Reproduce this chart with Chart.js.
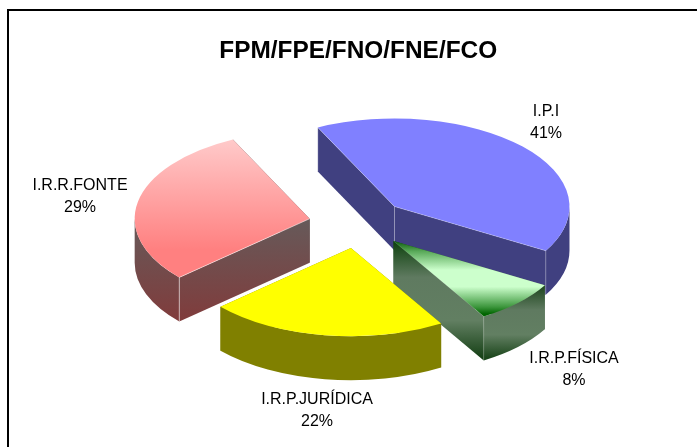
<!DOCTYPE html>
<html>
<head>
<meta charset="utf-8">
<title>FPM/FPE/FNO/FNE/FCO</title>
<script src="https://cdn.jsdelivr.net/npm/chart.js@4/dist/chart.umd.js"></script>
<style>
  html, body { margin: 0; padding: 0; background: #fff; overflow: hidden; }
  #wrap { position: relative; width: 697px; height: 447px; }
  #frame { position: absolute; left: 7px; top: 9px; right: 0; bottom: 0; border-top: 2px solid #000; border-left: 2px solid #000; }
  canvas { position: absolute; left: 0; top: 0; }
</style>
</head>
<body>
<div id="wrap">
  <div id="frame"></div>
  <canvas id="chart" width="697" height="447"></canvas>
</div>
<script>
const categories = ['I.P.I', 'I.R.P.FÍSICA', 'I.R.P.JURÍDICA', 'I.R.R.FONTE'];
const shares = [40.6, 8.0, 22.0, 29.4];

// Where the data labels sit (centre x, y of first line)
const labelSpots = [[546, 112], [574, 359], [317, 400], [80, 186]];

// 3D look: pie is squashed and extruded by hand around Chart.js arcs
const squash = 0.503;
const depth = 44;
const explode = 49.5;
const pieCenterY = 223.5;
const drawOrder = [3, 0, 1, 2];
// strength of the pale line along the corners of each slice
const glow = [0.25, 0.15, 0, 0.5];

const ctx = document.getElementById('chart').getContext('2d');

function vertical(y0, y1, stops) {
  const g = ctx.createLinearGradient(0, y0, 0, y1);
  stops.forEach(s => g.addColorStop(s[0], s[1]));
  return g;
}

// Top faces, stops run over the full height of the (unsquashed) circle
function topFill(c) {
  const i = c.dataIndex;
  if (i === 0) return '#8080ff';
  if (i === 2) return '#ffff00';
  const area = c.chart.chartArea;
  if (!area) return '#cccccc';
  const mid = (area.top + area.bottom) / 2;
  if (i === 1) {
    return vertical(mid - 175, mid + 175, [
      [0.5, '#0c5c0c'], [0.56, '#5aaa5a'], [0.665, '#ccffcc'], [0.76, '#ccffcc'], [0.875, '#3c963c'], [0.915, '#006400']
    ]);
  }
  return vertical(mid - 175, mid + 175, [[0.05, '#ffcaca'], [0.676, '#ff8080'], [1, '#ff8080']]);
}

const edgeFills = [
  '#404080',
  vertical(241, 358, [[0, '#0c400c'], [0.31, '#5f7a60'], [0.68, '#627f62'], [1, '#154015']]),
  '#808000',
  vertical(219, 320, [[0, '#665a5a'], [1, '#803c3c']])
];
const rimFills = [
  '#404080',
  vertical(283, 358, [[0, '#163f16'], [0.36, '#5f7a60'], [0.69, '#627f62'], [1, '#1a451a']]),
  '#808000',
  vertical(219, 320, [[0, '#665a5a'], [1, '#803c3c']])
];

function drawSlice(c, arc, i) {
  const R = arc.outerRadius;
  const ry = R * squash;
  const mid = (arc.startAngle + arc.endAngle) / 2;
  const dx = Math.cos(mid) * explode;
  const dy = Math.sin(mid) * explode * squash;
  const cx = arc.x + dx;
  const cy = pieCenterY + dy;

  // flat walls along both cut edges
  c.fillStyle = edgeFills[i];
  [arc.startAngle, arc.endAngle].forEach(a => {
    const ex = cx + Math.cos(a) * R;
    const ey = cy + Math.sin(a) * ry;
    c.beginPath();
    c.moveTo(cx, cy);
    c.lineTo(ex, ey);
    c.lineTo(ex, ey + depth);
    c.lineTo(cx, cy + depth);
    c.closePath();
    c.fill();
  });

  // curved wall, front half of the ellipse only
  const a0 = Math.max(arc.startAngle, 0);
  const a1 = Math.min(arc.endAngle, Math.PI);
  if (a1 > a0) {
    c.fillStyle = rimFills[i];
    c.beginPath();
    c.ellipse(cx, cy, R, ry, 0, a0, a1);
    c.ellipse(cx, cy + depth, R, ry, 0, a1, a0, true);
    c.closePath();
    c.fill();
  }

  // top face is the library's own arc, squashed
  c.save();
  c.translate(dx, cy);
  c.scale(1, squash);
  c.translate(0, -arc.y);
  arc.draw(c);
  c.restore();

  // pale lines on the corners that face the viewer
  if (!glow[i]) return;
  const startShows = Math.cos(arc.startAngle) < 0;
  const endShows = Math.cos(arc.endAngle) > 0;
  c.save();
  c.lineWidth = 1;
  c.strokeStyle = 'rgba(255,255,255,' + glow[i] + ')';
  c.beginPath();
  [[arc.startAngle, startShows], [arc.endAngle, endShows]].forEach(e => {
    if (!e[1]) return;
    const ex = cx + Math.cos(e[0]) * R;
    const ey = cy + Math.sin(e[0]) * ry;
    c.moveTo(cx, cy);
    c.lineTo(ex, ey);
    c.lineTo(ex, ey + depth);
  });
  if (startShows && endShows) {
    c.moveTo(cx, cy);
    c.lineTo(cx, cy + depth);
  }
  c.stroke();
  c.restore();
}

const pie3d = {
  id: 'pie3d',
  beforeDatasetDraw(chart, args) {
    const arcs = args.meta.data;
    drawOrder.forEach(i => drawSlice(chart.ctx, arcs[i], i));
    return false;
  },
  afterDatasetsDraw(chart) {
    const c = chart.ctx;
    const total = shares.reduce((a, b) => a + b, 0);
    c.save();
    c.font = '16px "Liberation Sans", Arial, sans-serif';
    c.fillStyle = '#000';
    c.textAlign = 'center';
    c.textBaseline = 'middle';
    categories.forEach((name, i) => {
      const spot = labelSpots[i];
      c.fillText(name, spot[0], spot[1]);
      c.fillText(Math.round(shares[i] / total * 100) + '%', spot[0], spot[1] + 22);
    });
    c.restore();
  }
};

new Chart(ctx, {
  type: 'pie',
  data: {
    labels: categories,
    datasets: [{
      data: shares,
      backgroundColor: topFill,
      borderWidth: 0
    }]
  },
  options: {
    responsive: false,
    animation: false,
    rotation: -26,
    radius: 175,
    layout: { padding: { left: 19.5 } },
    plugins: {
      legend: { display: false },
      tooltip: { enabled: false },
      title: {
        display: true,
        text: 'FPM/FPE/FNO/FNE/FCO',
        color: '#000',
        font: { family: '"Liberation Sans", Arial, sans-serif', size: 24.4, weight: 'bold' },
        padding: { top: 37, bottom: 0 }
      }
    }
  },
  plugins: [pie3d]
});
</script>
</body>
</html>
